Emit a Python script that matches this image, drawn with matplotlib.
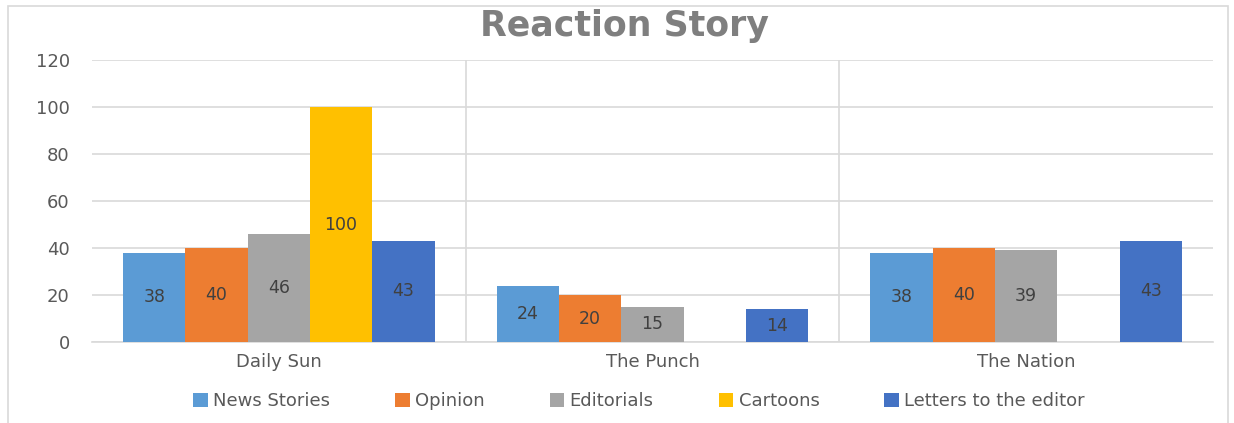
import numpy as np
import matplotlib.pyplot as plt
from matplotlib.patches import Rectangle

# 신문별 반응 기사 수
papers = ["Daily Sun", "The Punch", "The Nation"]
series_names = ["News Stories", "Opinion", "Editorials", "Cartoons", "Letters to the editor"]
news_stories = [38, 24, 38]
opinion = [40, 20, 40]
editorials = [46, 15, 39]
cartoons = [100, 0, 0]
letters = [43, 14, 43]
y_ticks = [0, 20, 40, 60, 80, 100, 120]

COLORS = ["#5B9BD5", "#ED7D31", "#A5A5A5", "#FFC000", "#4472C4"]
TXT = "#595959"
GRID = "#D9D9D9"

plt.rcParams["font.family"] = "DejaVu Sans"

fig = plt.figure(figsize=(12.34, 4.23), dpi=100)
fig.patch.set_facecolor("white")
ax = fig.add_axes([92 / 1234, 81 / 423, 1121 / 1234, 282 / 423])

all_series = [news_stories, opinion, editorials, cartoons, letters]
x = np.arange(len(papers)) + 0.5
w = 1 / 6

for i, (name, vals, c) in enumerate(zip(series_names, all_series, COLORS)):
    pos = x + (i - 2) * w
    bars = ax.bar(pos, vals, width=w, color=c, label=name, zorder=3)
    for b, v in zip(bars, vals):
        if v == 0:
            continue
        ax.text(b.get_x() + b.get_width() / 2, v / 2, str(v),
                ha="center", va="center", fontsize=12.5, color="#404040", zorder=4)

# 카테고리 구분선
for sep in [1, 2]:
    ax.axvline(sep, color=GRID, lw=1.2, zorder=1)

ax.set_xlim(0, 3)
ax.set_ylim(0, 120)
ax.set_yticks(y_ticks)
ax.set_xticks(x)
ax.set_xticklabels(papers)
ax.grid(axis="y", color=GRID, lw=1.2, zorder=0)
ax.tick_params(axis="y", length=0, pad=16, labelsize=13, colors=TXT)
ax.tick_params(axis="x", length=0, pad=8, labelsize=13, colors=TXT)
for side in ["left", "right", "top"]:
    ax.spines[side].set_visible(False)
ax.spines["bottom"].set_color(GRID)
ax.spines["bottom"].set_linewidth(1.2)

fig.text(0.506, 0.938, "Reaction Story", ha="center", va="center",
         fontsize=25, fontweight="bold", color="#7F7F7F")

fig.legend(loc="center", bbox_to_anchor=(0.518, 0.052), ncol=5, frameon=False,
           fontsize=13, handlelength=0.8, handleheight=0.8, handletextpad=0.3,
           columnspacing=3.6, labelcolor=TXT)

# 차트 외곽 테두리
fig.patches.append(Rectangle((8 / 1234, -0.01), 1220 / 1234, 1.01 - 6 / 423,
                             transform=fig.transFigure, fill=False,
                             edgecolor=GRID, lw=1.2))

fig.savefig("out.png", dpi=100)
